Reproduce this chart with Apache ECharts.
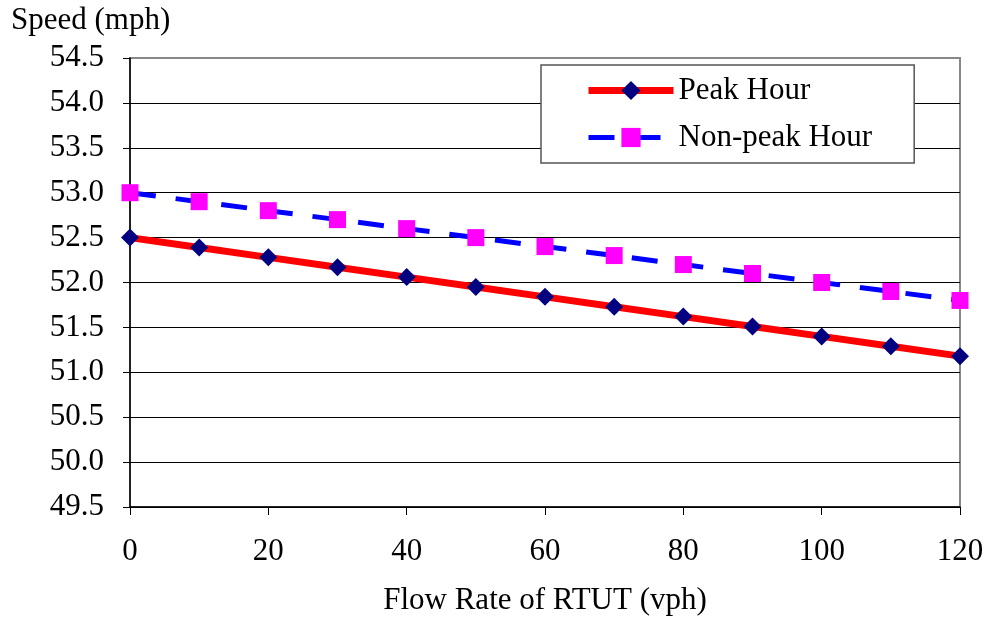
<!DOCTYPE html>
<html>
<head>
<meta charset="utf-8">
<script src="https://cdn.jsdelivr.net/npm/echarts@6/dist/echarts.min.js"></script>
<style>
  html, body { margin: 0; padding: 0; background: #fff; }
  #chart { width: 991px; height: 621px; }
</style>
</head>
<body>
<div id="chart"></div>
<script>
// flow rate of RTUT (vph)
var flowRates = [0, 10, 20, 30, 40, 50, 60, 70, 80, 90, 100, 110, 120];
// speed (mph)
var peakHour = [52.50, 52.39, 52.28, 52.17, 52.06, 51.95, 51.84, 51.73, 51.62, 51.51, 51.40, 51.29, 51.18];
var nonPeakHour = [53.00, 52.90, 52.80, 52.70, 52.60, 52.50, 52.40, 52.30, 52.20, 52.10, 52.00, 51.90, 51.80];

var font = "'Liberation Serif', 'DejaVu Serif', serif";

function pairs(ys) {
  return flowRates.map(function (x, i) { return [x, ys[i]]; });
}

var myChart = echarts.init(document.getElementById("chart"));
var option = {
  animation: false,
  backgroundColor: "#fff",
  title: {
    text: "Speed (mph)",
    left: 6,
    top: 0,
    textStyle: { fontFamily: font, fontSize: 31, fontWeight: "normal", color: "#000" }
  },
  grid: {
    left: 130,
    right: 31,
    top: 58,
    bottom: 113,
    show: true,
    borderColor: "#888",
    borderWidth: 2
  },
  legend: {
    orient: "vertical",
    left: 541,
    top: 65,
    padding: [10, 42, 10, 44],
    itemGap: 16,
    itemWidth: 85,
    itemHeight: 24,
    backgroundColor: "#fff",
    borderColor: "#555",
    borderWidth: 1.5,
    textStyle: { fontFamily: font, fontSize: 31, color: "#000" },
    data: [
      { name: "Peak Hour", lineStyle: { width: 7 } },
      { name: "Non-peak Hour", lineStyle: { width: 5 } }
    ]
  },
  xAxis: {
    type: "value",
    min: 0,
    max: 120,
    interval: 20,
    name: "Flow Rate of RTUT (vph)",
    nameLocation: "middle",
    nameGap: 78,
    nameTextStyle: { fontFamily: font, fontSize: 31, color: "#000" },
    axisLine: { lineStyle: { color: "#000", width: 1.5 } },
    axisTick: { show: true, inside: false, length: 8, lineStyle: { color: "#000" } },
    axisLabel: { fontFamily: font, fontSize: 31, color: "#000", margin: 29 },
    splitLine: { show: false }
  },
  yAxis: {
    type: "value",
    min: 49.5,
    max: 54.5,
    interval: 0.5,
    axisLine: { show: true, lineStyle: { color: "#000", width: 1.5 } },
    axisTick: { show: true, inside: false, length: 7, lineStyle: { color: "#000" } },
    axisLabel: {
      fontFamily: font, fontSize: 31, color: "#000", margin: 26,
      formatter: function (v) { return v.toFixed(1); }
    },
    splitLine: {
      show: true,
      lineStyle: {
        color: ["#000", "#000", "#000", "#000", "#000", "#000", "#000", "#000", "#000", "#000", "#888"],
        width: 1
      }
    }
  },
  series: [
    {
      name: "Peak Hour",
      type: "line",
      data: pairs(peakHour),
      symbol: "diamond",
      symbolSize: 18,
      lineStyle: { color: "#ff0000", width: 7 },
      itemStyle: { color: "#000080" },
      z: 3
    },
    {
      name: "Non-peak Hour",
      type: "line",
      data: pairs(nonPeakHour),
      symbol: "rect",
      symbolSize: 17,
      lineStyle: { color: "#0000ff", width: 5, type: [26, 20] },
      itemStyle: { color: "#ff00ff" },
      z: 2
    }
  ]
};
myChart.setOption(option, true);
</script>
</body>
</html>
